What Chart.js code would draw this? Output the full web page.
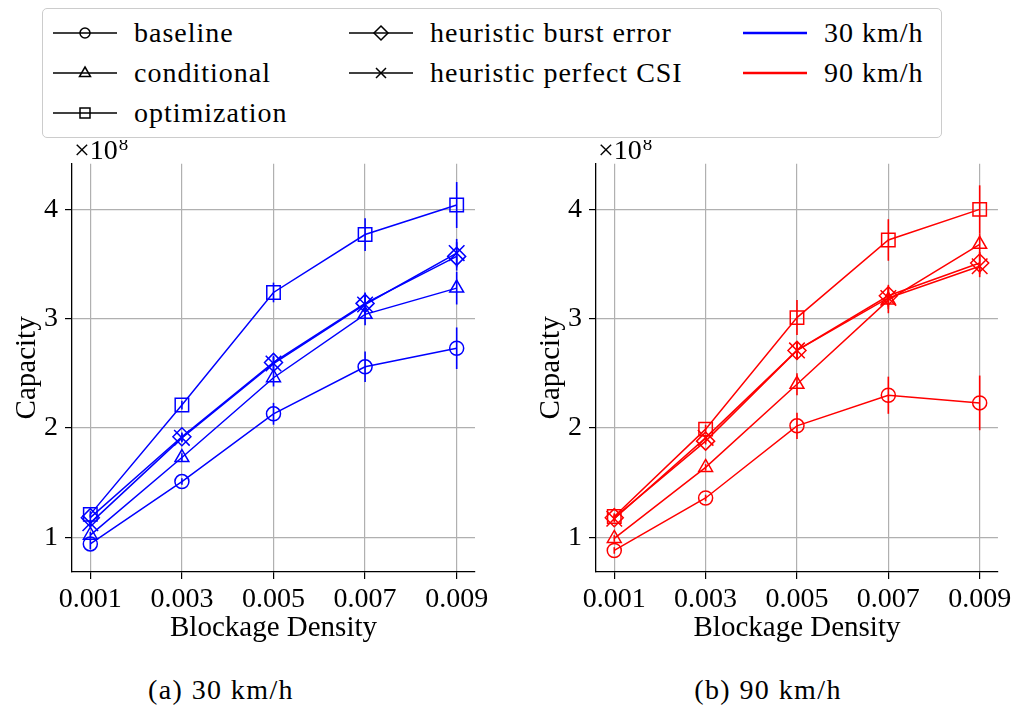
<!DOCTYPE html>
<html>
<head>
<meta charset="utf-8">
<script src="https://cdn.jsdelivr.net/npm/chart.js@4.4.1/dist/chart.umd.min.js"></script>
<style>
body { margin: 0; background: #fff; font-family: 'Liberation Serif', serif; }
#page { position: relative; width: 1016px; height: 713px; overflow: hidden; }
canvas { position: absolute; top: 140px; }
#legend { position: absolute; left: 42px; top: 8px; width: 900px; height: 130px; box-sizing: border-box;
  border: 1px solid #ccc; border-radius: 5px; background: rgba(255,255,255,0.8); z-index: 2; }
.item { position: absolute; display: flex; align-items: center; height: 30px; font-family: 'Liberation Serif', serif;
  font-size: 28px; letter-spacing: 1px; white-space: nowrap; }
.item svg { margin-right: 17px; }
.caption { position: absolute; top: 674px; font-family: 'Liberation Serif', serif; font-size: 28px; letter-spacing: 1.4px;
  transform: translateX(-50%); white-space: nowrap; }
</style>
</head>
<body>
<div id="page">
  <div id="legend"></div>
  <canvas id="chart30" width="508" height="520" style="left:0px"></canvas>
  <canvas id="chart90" width="508" height="520" style="left:508px"></canvas>
  <div class="caption" style="left:221px">(a) 30 km/h</div>
  <div class="caption" style="left:768px">(b) 90 km/h</div>
</div>
<script>
// blockage densities on the x axis
var xValues = [0.001, 0.003, 0.005, 0.007, 0.009];
var xTickLabels = ['0.001', '0.003', '0.005', '0.007', '0.009'];
var yTicks = [1, 2, 3, 4];
var yTickLabels = ['1', '2', '3', '4'];

// capacity in units of 1e8, 30 km/h
var baseline30 = [0.94, 1.51, 2.13, 2.56, 2.73];
var baseline30Err = [0.05, 0.03, 0.10, 0.14, 0.19];
var conditional30 = [1.02, 1.73, 2.46, 3.04, 3.28];
var conditional30Err = [0.03, 0.04, 0.08, 0.10, 0.15];
var optimization30 = [1.21, 2.21, 3.24, 3.77, 4.04];
var optimization30Err = [0.03, 0.04, 0.09, 0.15, 0.21];
var burst30 = [1.18, 1.92, 2.60, 3.14, 3.57];
var burst30Err = [0.03, 0.04, 0.06, 0.10, 0.13];
var perfect30 = [1.13, 1.91, 2.59, 3.13, 3.60];
var perfect30Err = [0.03, 0.04, 0.06, 0.10, 0.13];

// capacity in units of 1e8, 90 km/h
var baseline90 = [0.88, 1.36, 2.02, 2.30, 2.23];
var baseline90Err = [0.03, 0.03, 0.12, 0.17, 0.25];
var conditional90 = [0.99, 1.64, 2.40, 3.17, 3.68];
var conditional90Err = [0.03, 0.03, 0.10, 0.12, 0.10];
var optimization90 = [1.19, 1.99, 3.01, 3.72, 4.00];
var optimization90Err = [0.03, 0.04, 0.16, 0.19, 0.22];
var burst90 = [1.18, 1.88, 2.71, 3.21, 3.51];
var burst90Err = [0.03, 0.03, 0.08, 0.10, 0.10];
var perfect90 = [1.17, 1.91, 2.71, 3.19, 3.48];
var perfect90Err = [0.03, 0.03, 0.08, 0.10, 0.10];

var methodNames = ['baseline', 'conditional', 'optimization', 'heuristic burst error', 'heuristic perfect CSI'];
var markerStyles = ['circle', 'triangle', 'rect', 'rectRot', 'crossRot'];
var markerSizes = [7, 8, 9.5, 9, 11];

Chart.defaults.font.family = "'Liberation Serif', serif";
Chart.defaults.font.size = 28;
Chart.defaults.color = '#000';

// vertical error bars, no caps
var errorBars = {
    id: 'errorBars',
    afterDatasetsDraw: function (chart) {
        var ctx = chart.ctx;
        var yScale = chart.scales.y;
        chart.data.datasets.forEach(function (ds, i) {
            var meta = chart.getDatasetMeta(i);
            ctx.save();
            ctx.strokeStyle = ds.borderColor;
            ctx.lineWidth = 1.6;
            meta.data.forEach(function (pt, j) {
                var v = ds.data[j].y, e = ds.errors[j];
                ctx.beginPath();
                ctx.moveTo(pt.x, yScale.getPixelForValue(v - e));
                ctx.lineTo(pt.x, yScale.getPixelForValue(v + e));
                ctx.stroke();
            });
            ctx.restore();
        });
    }
};

// the x10^8 offset text above the y axis
var offsetText = {
    id: 'offsetText',
    afterDraw: function (chart) {
        var ctx = chart.ctx, area = chart.chartArea;
        ctx.save();
        ctx.fillStyle = '#000';
        ctx.textBaseline = 'alphabetic';
        ctx.font = "28px 'Liberation Serif'";
        ctx.fillText('\u00d710', area.left + 2, area.top - 5);
        var w = ctx.measureText('\u00d710').width;
        ctx.font = "19px 'Liberation Serif'";
        ctx.fillText('8', area.left + 3 + w, area.top - 14);
        ctx.restore();
    }
};

function makeChart(id, color, series, errors, padding) {
    var datasets = series.map(function (vals, k) {
        return {
            label: methodNames[k],
            data: xValues.map(function (x, i) { return { x: x, y: vals[i] }; }),
            errors: errors[k],
            borderColor: color,
            backgroundColor: 'transparent',
            borderWidth: 1.5,
            tension: 0,
            pointStyle: markerStyles[k],
            pointRadius: markerSizes[k],
            pointBorderWidth: 1.5,
            pointBorderColor: color,
            pointBackgroundColor: 'transparent'
        };
    });

    return new Chart(document.getElementById(id).getContext('2d'), {
        type: 'line',
        data: { datasets: datasets },
        options: {
            responsive: false,
            animation: false,
            layout: { padding: padding },
            plugins: { legend: { display: false }, tooltip: { enabled: false } },
            scales: {
                x: {
                    type: 'linear',
                    min: 0.0006,
                    max: 0.0094,
                    afterBuildTicks: function (s) { s.ticks = xValues.map(function (v) { return { value: v }; }); },
                    afterFit: function (s) { s.height = 74; },
                    ticks: {
                        callback: function (v, i) { return xTickLabels[i]; },
                        padding: 4, maxRotation: 0, autoSkip: false
                    },
                    grid: { color: '#b0b0b0', lineWidth: 1.2, tickColor: '#000', tickLength: 7, tickWidth: 1.2 },
                    border: { color: '#000', width: 1.3 },
                    title: { display: true, text: 'Blockage Density', font: { size: 29 }, padding: 0 }
                },
                y: {
                    min: 0.683,
                    max: 4.417,
                    afterBuildTicks: function (s) { s.ticks = yTicks.map(function (v) { return { value: v }; }); },
                    afterFit: function (s) { s.width = 62; },
                    ticks: {
                        callback: function (v, i) { return yTickLabels[i]; },
                        padding: 7
                    },
                    grid: { color: '#b0b0b0', lineWidth: 1.2, tickColor: '#000', tickLength: 7, tickWidth: 1.2 },
                    border: { color: '#000', width: 1.3 },
                    title: { display: true, text: 'Capacity', font: { size: 29 }, padding: 0 }
                }
            }
        },
        plugins: [errorBars, offsetText]
    });
}

makeChart('chart30', '#0000ff',
    [baseline30, conditional30, optimization30, burst30, perfect30],
    [baseline30Err, conditional30Err, optimization30Err, burst30Err, perfect30Err],
    { left: 10, right: 33, top: 20, bottom: 14 });

makeChart('chart90', '#ff0000',
    [baseline90, conditional90, optimization90, burst90, perfect90],
    [baseline90Err, conditional90Err, optimization90Err, burst90Err, perfect90Err],
    { left: 26, right: 18, top: 20, bottom: 14 });

// legend shared by both panels
var markerSvg = {
    circle: '<circle cx="32" cy="10" r="5" fill="none" stroke="#000" stroke-width="1.5"/>',
    triangle: '<polygon points="32,4 37.5,13.5 26.5,13.5" fill="none" stroke="#000" stroke-width="1.5"/>',
    rect: '<rect x="27" y="5" width="10" height="10" fill="none" stroke="#000" stroke-width="1.5"/>',
    rectRot: '<polygon points="32,3 39,10 32,17 25,10" fill="none" stroke="#000" stroke-width="1.5"/>',
    crossRot: '<path d="M27,5 L37,15 M27,15 L37,5" stroke="#000" stroke-width="1.5"/>'
};
var legendSlots = [[10, 9], [10, 49], [10, 89], [306, 9], [306, 49]];
var legendEl = document.getElementById('legend');
methodNames.forEach(function (name, k) {
    var div = document.createElement('div');
    div.className = 'item';
    div.style.left = legendSlots[k][0] + 'px';
    div.style.top = legendSlots[k][1] + 'px';
    div.innerHTML = '<svg width="64" height="20"><line x1="0" y1="10" x2="64" y2="10" stroke="#000" stroke-width="1.5"/>' +
        markerSvg[markerStyles[k]] + '</svg>' + name;
    legendEl.appendChild(div);
});
[['30 km/h', '#0000ff', 9], ['90 km/h', '#ff0000', 49]].forEach(function (e) {
    var div = document.createElement('div');
    div.className = 'item';
    div.style.left = '700px';
    div.style.top = e[2] + 'px';
    div.innerHTML = '<svg width="64" height="20"><line x1="0" y1="10" x2="64" y2="10" stroke="' + e[1] +
        '" stroke-width="2.5"/></svg>' + e[0];
    legendEl.appendChild(div);
});
</script>
</body>
</html>
